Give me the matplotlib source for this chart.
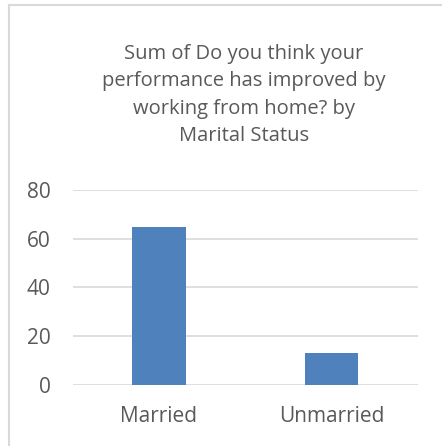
import matplotlib
matplotlib.use('Agg')
import matplotlib.pyplot as plt
from matplotlib.lines import Line2D

categories = ['Married', 'Unmarried']
values = [65, 13]
yticks = [0, 20, 40, 60, 80]
title = 'Sum of Do you think your\nperformance has improved by\nworking from home? by\nMarital Status'

plt.rcParams['font.family'] = ['Open Sans', 'DejaVu Sans']

fig = plt.figure(figsize=(4.42, 4.46), dpi=100)
ax = fig.add_axes([0.1645, 0.1368, 0.7805, 0.4372])

ax.bar(categories, values, width=0.31, color='#4F81BD', linewidth=0, zorder=3)
ax.set_ylim(0, 80)
ax.set_xlim(-0.5, 1.5)
ax.set_yticks(yticks)
ax.yaxis.grid(True, color='#D9D9D9', linewidth=1.2, zorder=0)
for s in ax.spines.values():
    s.set_visible(False)
ax.tick_params(axis='both', length=0, labelsize=15, labelcolor='#595959')
ax.tick_params(axis='y', pad=16)
ax.tick_params(axis='x', pad=15)

fig.text(0.552, 0.902, title, ha='center', va='top', fontsize=14.5,
         color='#595959', linespacing=1.5)

# chart frame (top and left edges visible)
fig.add_artist(Line2D([0.02, 1.0], [0.988, 0.988], color='#D9D9D9', lw=1.5, transform=fig.transFigure))
fig.add_artist(Line2D([0.02, 0.02], [0.0, 0.988], color='#D9D9D9', lw=1.5, transform=fig.transFigure))

fig.savefig('out.png', dpi=100)
